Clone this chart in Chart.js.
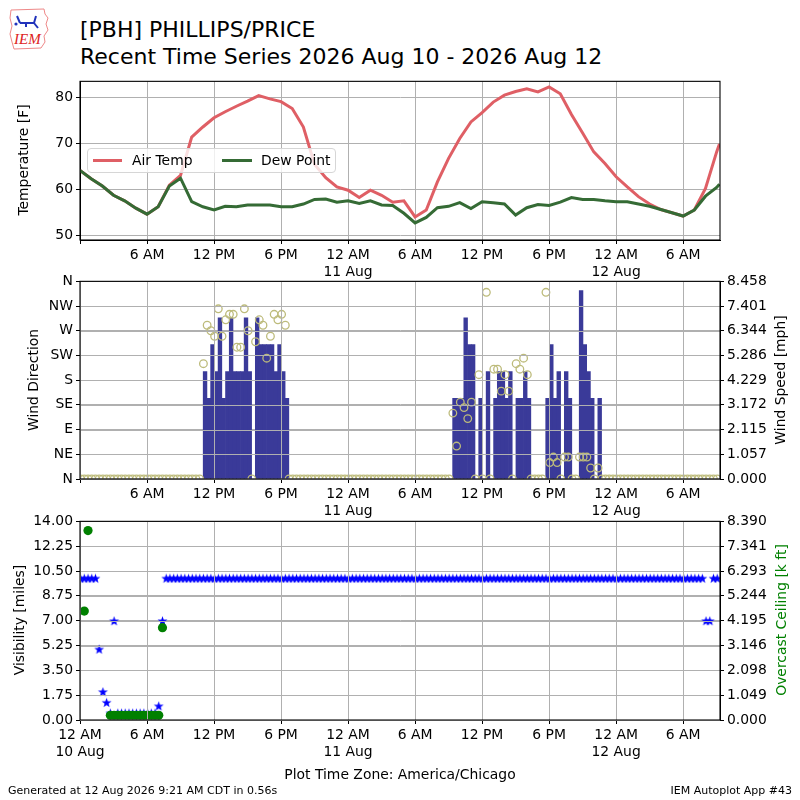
<!DOCTYPE html>
<html>
<head>
<meta charset="utf-8">
<script src="https://cdn.jsdelivr.net/npm/chart.js@4.4.1/dist/chart.umd.min.js"></script>
<style>
    body { margin: 0; background: #fff; font-family: "DejaVu Sans", sans-serif; }
    #page { position: relative; width: 800px; height: 800px; overflow: hidden; background: #fff; }
    canvas { position: absolute; left: 0; }
    .txt { position: absolute; white-space: nowrap; color: #000; }
    .vlabel { position: absolute; white-space: nowrap; font-size: 13.9px; line-height: 16px;
              transform: translate(-50%, -50%) rotate(-90deg); }
</style>
</head>
<body>
<div id="page">
    <svg style="position:absolute;left:8px;top:6px" width="42" height="46" viewBox="0 0 42 46">
        <path d="M3 4 L36 3 L37 8 L40 12 L38 18 L40 24 L36 30 L37 36 L33 42 L6 43 L4 36 L2 28 L4 20 L2 12 Z"
              fill="none" stroke="#e88" stroke-width="1"/>
        <path d="M9 10 L12 17 M12 17 L26 17 M26 17 L28 10 M18 17 L18 21 M26 17 L30 22" stroke="#2233bb" stroke-width="2" fill="none"/>
        <circle cx="8" cy="18" r="1.6" fill="#2233bb"/>
        <text x="6" y="38" font-family="Liberation Serif" font-style="italic" font-size="15" fill="#d22">IEM</text>
    </svg>
    <div class="txt" style="left:80px;top:16px;font-size:22px;line-height:28px">[PBH] PHILLIPS/PRICE</div>
    <div class="txt" style="left:80px;top:43px;font-size:22px;line-height:28px">Recent Time Series 2026 Aug 10 - 2026 Aug 12</div>

    <canvas id="tempChart" width="800" height="210" style="top:70px;width:800px;height:210px"></canvas>
    <canvas id="windChart" width="800" height="249" style="top:270px;width:800px;height:249px"></canvas>
    <canvas id="visChart" width="800" height="250" style="top:510px;width:800px;height:250px"></canvas>

    <div id="legend" style="position:absolute;left:87px;top:148px;width:247px;height:23px;border:1px solid #d6d6d6;border-radius:4px;background:rgba(255,255,255,0.8)">
        <div style="position:absolute;left:5px;top:10px;width:29px;height:3px;background:#df5f65"></div>
        <span class="txt" style="left:44px;top:3px;font-size:13.9px;line-height:16px">Air Temp</span>
        <div style="position:absolute;left:134px;top:10px;width:30px;height:3px;background:#356b35"></div>
        <span class="txt" style="left:173px;top:3px;font-size:13.9px;line-height:16px">Dew Point</span>
    </div>

    <div class="vlabel" style="left:23px;top:160px">Temperature [F]</div>
    <div class="vlabel" style="left:33px;top:380px">Wind Direction</div>
    <div class="vlabel" style="left:19px;top:620px">Visibility [miles]</div>
    <div class="vlabel" style="left:780px;top:380px">Wind Speed [mph]</div>
    <div class="vlabel" style="left:781px;top:620px;color:#008000">Overcast Ceiling [k ft]</div>

    <div class="txt" style="left:0;width:800px;text-align:center;top:766px;font-size:13.9px;line-height:16px">Plot Time Zone: America/Chicago</div>
    <div class="txt" style="left:8px;top:784px;font-size:11px;line-height:13px">Generated at 12 Aug 2026 9:21 AM CDT in 0.56s</div>
    <div class="txt" style="right:8px;top:784px;font-size:11px;line-height:13px">IEM Autoplot App #43</div>
</div>

<script>
// x axis: hours since 2026-08-10 00:00 CDT
const X_MAX = 57.3;
const tickHours = [0, 6, 12, 18, 24, 30, 36, 42, 48, 54];
const tickLabels = ["12 AM\n10 Aug", "6 AM", "12 PM", "6 PM", "12 AM\n11 Aug",
                    "6 AM", "12 PM", "6 PM", "12 AM\n12 Aug", "6 AM"];

// hourly temperature / dew point [F], last value at 09:15 Aug 12
const tempHours = [];
for (let h = 0; h <= 57; h++) tempHours.push(h);
tempHours.push(57.25);
const airTemp = [
    64.1, 62.3, 60.7, 58.7, 57.5, 55.9, 54.6, 56.2, 60.9, 63.0, 71.3, 73.5,
    75.5, 76.8, 78.0, 79.1, 80.3, 79.6, 79.0, 77.5, 73.5, 65.4, 62.5, 60.5,
    59.8, 58.2, 59.8, 58.7, 57.2, 57.5, 54.0, 55.5, 61.6, 66.7, 71.0, 74.6,
    76.6, 78.9, 80.4, 81.2, 81.8, 81.1, 82.2, 80.7, 76.2, 72.2, 68.1, 65.6,
    62.7, 60.5, 58.4, 56.8, 55.6, 54.9, 54.2, 55.5, 60.2, 68.1, 69.8
];
const dewPoint = [
    64.1, 62.3, 60.7, 58.7, 57.5, 55.9, 54.6, 56.2, 60.7, 62.4, 57.3, 56.2,
    55.5, 56.3, 56.2, 56.6, 56.6, 56.6, 56.2, 56.2, 56.8, 57.8, 57.9, 57.2,
    57.5, 56.9, 57.5, 56.6, 56.5, 54.8, 52.7, 53.9, 56.0, 56.3, 57.1, 55.8,
    57.3, 57.1, 56.8, 54.4, 56.0, 56.7, 56.5, 57.2, 58.2, 57.8, 57.8, 57.5,
    57.3, 57.3, 56.8, 56.3, 55.6, 54.9, 54.2, 55.5, 58.5, 60.4, 61.1
];
const tempTicks = [50, 60, 70, 80];

// 20 minute observations
const OBS_COUNT = 172;
const obsTimes = [];
for (let i = 0; i < OBS_COUNT; i++) obsTimes.push(i / 3 + 0.05);

// wind speed [mph]
const windSpeed = [
    0,0,0,0,0,0,0,0,0,0, 0,0,0,0,0,0,0,0,0,0, 0,0,0,0,0,0,0,0,0,0, 0,0,0,
    4.6,3.45,5.75,4.6,6.9,3.45,4.6,6.9,4.6,4.6,4.6,6.9,4.6,0,6.9,5.75,5.75,5.75,5.75,4.6,5.75,4.6,3.45,
    0,0,0,0,0,0,0,0,0,0, 0,0,0,0,0,0,0,0,0,0, 0,0,0,0,0,0,0,0,0,0, 0,0,0,0,0,0,0,0,0,0, 0,0,0,0,
    3.45,3.45,3.45,6.9,5.75,5.75,0,3.45,0,4.6,0,3.45,4.6,4.6,3.45,4.6,0,3.45,3.45,4.6,3.45,
    0,0,0,0,
    3.45,5.75,3.45,4.6,0,4.6,3.45,0,0,8.06,5.75,4.6,3.45,0,3.45,
    0,0,0,0,0,0,0,0,0,0, 0,0,0,0,0,0,0,0,0,0, 0,0,0,0,0,0,0,0,0,0, 0,0
];
// wind direction [deg], 0 when calm
const windDir = [
    0,0,0,0,0,0,0,0,0,0, 0,0,0,0,0,0,0,0,0,0, 0,0,0,0,0,0,0,0,0,0, 0,0,0,
    210,280,270,260,310,260,290,300,300,240,240,310,270,0,250,290,280,220,260,300,290,300,280,
    0,0,0,0,0,0,0,0,0,0, 0,0,0,0,0,0,0,0,0,0, 0,0,0,0,0,0,0,0,0,0, 0,0,0,0,0,0,0,0,0,0, 0,0,0,0,
    120,60,140,130,110,140,0,190,0,340,0,200,200,160,190,160,0,210,200,220,190,
    0,0,0,0,
    340,30,40,30,0,40,40,0,0,40,40,40,20,0,20,
    0,0,0,0,0,0,0,0,0,0, 0,0,0,0,0,0,0,0,0,0, 0,0,0,0,0,0,0,0,0,0, 0,0
];
const dirTicks = [0, 45, 90, 135, 180, 225, 270, 315, 360];
const dirLabels = ["N", "NE", "E", "SE", "S", "SW", "W", "NW", "N"];
const speedLabels = ["0.000", "1.057", "2.115", "3.172", "4.229", "5.286", "6.344", "7.401", "8.458"];

// visibility [miles]
const visibility = [
    10,10,10,10,10,5,2,1.25,0.5,7,0.5,0.5,0.5,0.5,0.5,0.5,0.5,0.5,0.5,0.5,
    0.5,1,7,10,10,10,10,10,10,10,10,10,10,10,10,10,10,10,10,10,
    10,10,10,10,10,10,10,10,10,10,10,10,10,10,10,10,10,10,10,10,
    10,10,10,10,10,10,10,10,10,10,10,10,10,10,10,10,10,10,10,10,
    10,10,10,10,10,10,10,10,10,10,10,10,10,10,10,10,10,10,10,10,
    10,10,10,10,10,10,10,10,10,10,10,10,10,10,10,10,10,10,10,10,
    10,10,10,10,10,10,10,10,10,10,10,10,10,10,10,10,10,10,10,10,
    10,10,10,10,10,10,10,10,10,10,10,10,10,10,10,10,10,10,10,10,
    10,10,10,10,10,10,10,10,7,7,10,10
];
// overcast ceiling [k ft], only the observations that reported one
const ceilingObs = [1, 2, 8, 9, 10, 11, 12, 13, 14, 15, 16, 17, 18, 19, 20, 21, 22];
const ceilingKft = [4.6, 8.0, 0.2, 0.2, 0.2, 0.2, 0.2, 0.2, 0.2, 0.2, 0.2, 0.2, 0.2, 0.2, 0.2, 0.2, 3.9];
const visTicks = [0, 1.75, 3.5, 5.25, 7, 8.75, 10.5, 12.25, 14];
const ceilLabels = ["0.000", "1.049", "2.098", "3.146", "4.195", "5.244", "6.293", "7.341", "8.390"];

Chart.defaults.font.family = "'DejaVu Sans', sans-serif";
Chart.defaults.font.size = 13.9;
Chart.defaults.color = "#000";
Chart.defaults.animation = false;

const GRID = "#b0b0b0";

// draw the full box round the plot area
const framePlugin = {
    id: "frame",
    afterDraw(chart) {
        const { ctx, chartArea: a } = chart;
        ctx.save();
        ctx.strokeStyle = "#000";
        ctx.lineWidth = 1.1;
        ctx.strokeRect(a.left, a.top, a.right - a.left, a.bottom - a.top);
        ctx.restore();
    },
};

// grid lines on top of the marks (middle and bottom panels)
const gridOverPlugin = {
    id: "gridOver",
    afterDatasetsDraw(chart) {
        const { ctx, chartArea: a, scales } = chart;
        ctx.save();
        ctx.strokeStyle = GRID;
        ctx.lineWidth = 1;
        ctx.beginPath();
        scales.x.ticks.forEach((t) => {
            const px = Math.round(scales.x.getPixelForValue(t.value)) + 0.5;
            ctx.moveTo(px, a.top);
            ctx.lineTo(px, a.bottom);
        });
        scales.y.ticks.forEach((t) => {
            const py = Math.round(scales.y.getPixelForValue(t.value)) + 0.5;
            ctx.moveTo(a.left, py);
            ctx.lineTo(a.right, py);
        });
        ctx.stroke();
        ctx.restore();
    },
};

function timeAxis(showZero) {
    return {
        type: "linear",
        min: 0,
        max: X_MAX,
        offset: false,
        afterBuildTicks: (s) => { s.ticks = tickHours.map((v) => ({ value: v })); },
        afterFit: (s) => { s.height = 40; },
        ticks: {
            autoSkip: false,
            maxRotation: 0,
            padding: 3,
            callback: (v) => {
                const i = tickHours.indexOf(v);
                if (i < 0 || (!showZero && v === 0)) return "";
                return tickLabels[i].split("\n");
            },
        },
        grid: { color: GRID, tickColor: "#000", tickLength: 4, offset: false },
        border: { color: "#000" },
    };
}

function sideAxis(position, min, max, ticks, labels) {
    return {
        type: "linear",
        position: position,
        min: min,
        max: max,
        afterBuildTicks: (s) => { s.ticks = ticks.map((v) => ({ value: v })); },
        afterFit: (s) => { s.width = 80; },
        ticks: { padding: 3, callback: (v, i) => labels[i] },
        grid: {
            color: GRID,
            tickColor: "#000",
            tickLength: 4,
            drawOnChartArea: position === "left",
        },
        border: { color: "#000" },
    };
}

const commonOpts = {
    responsive: false,
    events: [],
    plugins: { legend: { display: false }, tooltip: { enabled: false } },
};

// Temperature panel
new Chart(document.getElementById("tempChart"), {
    type: "line",
    data: {
        datasets: [
            {
                label: "Air Temp",
                data: airTemp.map((t, i) => ({ x: tempHours[i], y: t })),
                borderColor: "#df5f65",
                borderWidth: 3,
                pointRadius: 0,
                order: 1,
            },
            {
                label: "Dew Point",
                data: dewPoint.map((t, i) => ({ x: tempHours[i], y: t })),
                borderColor: "#356b35",
                borderWidth: 3,
                pointRadius: 0,
                order: 0,
            },
        ],
    },
    options: {
        ...commonOpts,
        layout: { padding: { top: 11, right: 80, left: 0, bottom: 0 } },
        scales: {
            x: timeAxis(false),
            y: sideAxis("left", 49.0, 83.4, tempTicks, tempTicks.map(String)),
        },
    },
    plugins: [framePlugin],
});

// Wind panel
new Chart(document.getElementById("windChart"), {
    type: "bar",
    data: {
        datasets: [
            {
                type: "scatter",
                label: "Wind Direction",
                data: windDir.map((d, i) => ({ x: obsTimes[i], y: d })),
                yAxisID: "y",
                pointRadius: 3.8,
                pointBorderWidth: 1.3,
                pointBackgroundColor: "rgba(0,0,0,0)",
                pointBorderColor: "#bdbb7b",
                clip: 0,
                order: 0,
            },
            {
                type: "bar",
                label: "Wind Speed",
                data: windSpeed.map((s, i) => ({ x: obsTimes[i] + 1 / 6 - 0.02, y: s })),
                yAxisID: "y2",
                backgroundColor: "#3a3a99",
                barPercentage: 1,
                categoryPercentage: 1,
                order: 1,
            },
        ],
    },
    options: {
        ...commonOpts,
        layout: { padding: { top: 10.5, right: 0, left: 0, bottom: 0 } },
        scales: {
            x: timeAxis(false),
            y: sideAxis("left", 0, 360, dirTicks, dirLabels),
            y2: sideAxis("right", 0, 8.458, dirTicks.map((d) => d / 360 * 8.458), speedLabels),
        },
    },
    plugins: [gridOverPlugin, framePlugin],
});

// filled five point star marker
function starImage(color, r) {
    const c = document.createElement("canvas");
    const s = Math.ceil(r * 2) + 2;
    c.width = s;
    c.height = s;
    const g = c.getContext("2d");
    g.fillStyle = color;
    g.beginPath();
    for (let k = 0; k < 10; k++) {
        const rad = k % 2 ? r * 0.4 : r;
        const a = -Math.PI / 2 + k * Math.PI / 5;
        g.lineTo(s / 2 + rad * Math.cos(a), s / 2 + 0.6 + rad * Math.sin(a));
    }
    g.closePath();
    g.fill();
    return c;
}
const star = starImage("#0000ff", 5.2);

// Visibility / ceiling panel
new Chart(document.getElementById("visChart"), {
    type: "scatter",
    data: {
        datasets: [
            {
                label: "Ceiling",
                data: ceilingObs.map((o, i) => ({ x: obsTimes[o], y: ceilingKft[i] })),
                yAxisID: "y2",
                pointRadius: 4.6,
                pointBorderWidth: 0,
                pointBackgroundColor: "#008000",
                clip: 0,
                order: 0,
            },
            {
                label: "Visibility",
                data: visibility.map((v, i) => ({ x: obsTimes[i], y: v })),
                yAxisID: "y",
                pointStyle: star,
                clip: 0,
                order: 1,
            },
        ],
    },
    options: {
        ...commonOpts,
        layout: { padding: { top: 10.7, right: 0, left: 0, bottom: 0 } },
        scales: {
            x: timeAxis(true),
            y: sideAxis("left", 0, 14, visTicks, visTicks.map((v) => v.toFixed(2))),
            y2: sideAxis("right", 0, 8.39, visTicks.map((v) => v / 14 * 8.39), ceilLabels),
        },
    },
    plugins: [gridOverPlugin, framePlugin],
});
</script>
</body>
</html>
